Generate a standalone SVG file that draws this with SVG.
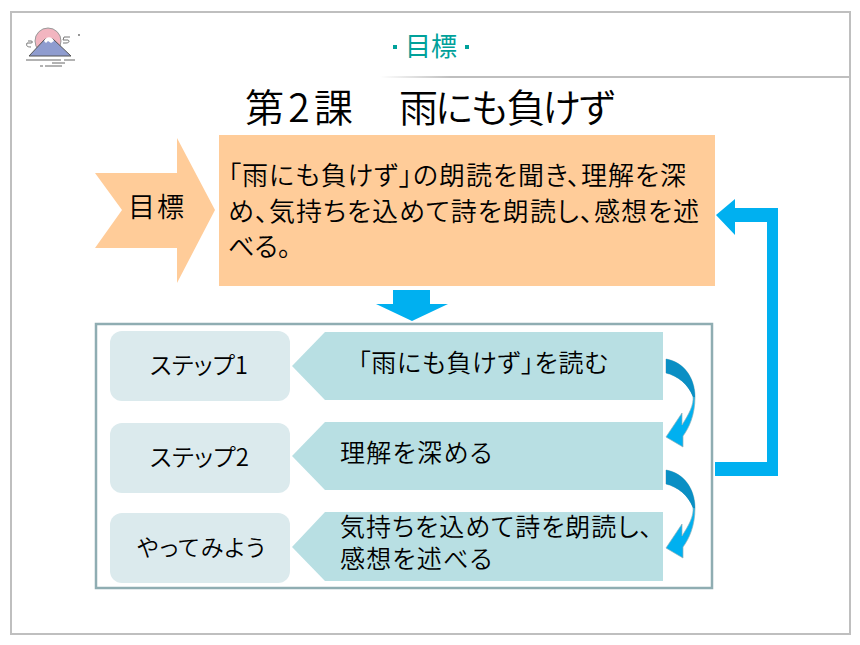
<svg xmlns="http://www.w3.org/2000/svg" width="860" height="645" viewBox="0 0 860 645">
<defs>
<linearGradient id="hl" x1="0" x2="1" y1="0" y2="0"><stop offset="0" stop-color="#bfbfbf" stop-opacity="0"/><stop offset="0.15" stop-color="#bfbfbf"/><stop offset="1" stop-color="#bfbfbf"/></linearGradient>
<path id="curve" d="M666 359 C684 362 695 378 695 397 C695 415 689 428 683 436 L683 447 L666 437 L682 413 L682 425 C689 414 694 405 693 396 C688 384 678 376 666 373 Z"/>
<path id="curve-top" d="M666 359 C684 362 695 378 695 397 L693 397 C688 384 678 376 666 373 Z"/>
</defs>
<style>
text{font-family:"Noto Sans CJK JP","Noto Sans",sans-serif;fill:#000;font-weight:350;font-feature-settings:"palt"}
.t{font-size:26px}
.s{font-size:25px}
.l{font-size:24px}
.step{fill:#dbeaed}
.pent{fill:#b8dfe3}
.peach{fill:#ffcc99}
.blue{fill:#00b0f0}
.c{fill:#00b0f0;stroke:#8fb0b8;stroke-width:.7}
.d{fill:#0a8fc4}
</style>
<rect x="0" y="0" width="860" height="645" fill="#fff"/>
<rect x="11" y="12" width="839" height="622" fill="#fff" stroke="#bfbfbf" stroke-width="2"/>
<rect x="380" y="76" width="470" height="2" fill="url(#hl)"/>
<g id="logo" fill="none" stroke="#666" stroke-width="1">
<circle cx="48" cy="41" r="13" fill="#f2b5c0" stroke="#999"/>
<path d="M29 56 L45 39 L53 39 L71 56 Z" fill="#8f9ccf" stroke="#555"/>
<path d="M44 41 C46 36 52 36 54 41 L51 43 L48 41 L46 43 Z" fill="#fff" stroke="none"/>
<path d="M26 60 H61 M64 60 H75 M52 63 H65 M40 66 H43 M45 66 H62"/>
<path d="M27 43 H31 C33 43 33 41 31 41 H28 M27 43 C26 46 27 47 31 47" stroke="#777"/>
<path d="M70 37 H64 L63 40 H68 C70 41 69 43 66 43 H63" stroke="#777"/>
<circle cx="79" cy="35" r=".6"/>
</g>
<g id="heading"><text x="431" y="56" font-size="26" text-anchor="middle" style="fill:#00a19a;font-weight:400">目標</text><rect x="393" y="45" width="4" height="4" fill="#00a19a"/><rect x="465" y="45" width="4" height="4" fill="#00a19a"/></g>
<g id="title"><text x="245" y="122" font-size="39" style="font-feature-settings:normal"><tspan textLength="108">第2課</tspan>　<tspan x="399" textLength="218">雨にも負けず</tspan></text></g>
<g id="goal-label"><path class="peach" d="M95 173 H177 V138 L215 210 L177 283 V248 H95 L122 210 Z"/><text x="128" y="217" font-size="27" textLength="56">目標</text></g>
<g id="goal-text"><rect class="peach" x="219" y="135" width="496" height="151"/>
<text class="t" x="228" y="185" textLength="458">「雨にも負けず」の朗読を聞き、理解を深</text>
<text class="t" x="228" y="221" textLength="471">め、気持ちを込めて詩を朗読し、感想を述</text>
<text class="t" x="228" y="256">べる。</text></g>
<g id="down-arrow"><path class="blue" d="M393 290 H430 V304 H448 L412 321 L376 304 H393 Z"/></g>
<g id="frame"><rect x="96" y="324" width="616" height="264" fill="none" stroke="#8fadb2" stroke-width="2.5"/></g>
<g id="step1"><rect class="step" x="110" y="331" width="180" height="70" rx="12"/><text x="150" y="374" class="l" textLength="98">ステップ1</text></g>
<g id="step2"><rect class="step" x="110" y="423" width="180" height="70" rx="12"/><text x="150" y="466" class="l" textLength="99">ステップ2</text></g>
<g id="step3"><rect class="step" x="110" y="513" width="180" height="70" rx="12"/><text x="137" y="556" font-size="23" textLength="128">やってみよう</text></g>
<g id="p1"><path class="pent" d="M663 332 V400 H325 L292 366 L325 332 Z"/><text x="358" y="372" class="s" textLength="250">「雨にも負けず」を読む</text></g>
<g id="p2"><path class="pent" d="M663 422 V490 H325 L292 456 L325 422 Z"/><text x="340" y="462" class="s" textLength="152">理解を深める</text></g>
<g id="p3"><path class="pent" d="M663 512 V581 H325 L292 547 L325 512 Z"/><text x="340" y="536" class="s" textLength="312">気持ちを込めて詩を朗読し、</text><text x="340" y="568" class="s" textLength="152">感想を述べる</text></g>
<g id="connectors">
<use href="#curve" class="c"/>
<use href="#curve-top" class="d"/>
<use href="#curve" class="c" y="111"/>
<use href="#curve-top" class="d" y="111"/>
<path class="blue" d="M715 462 H767 V222 H735 V235 L716 215 L735 199 V208 H778 V476 H715 Z"/>
</g>
</svg>
